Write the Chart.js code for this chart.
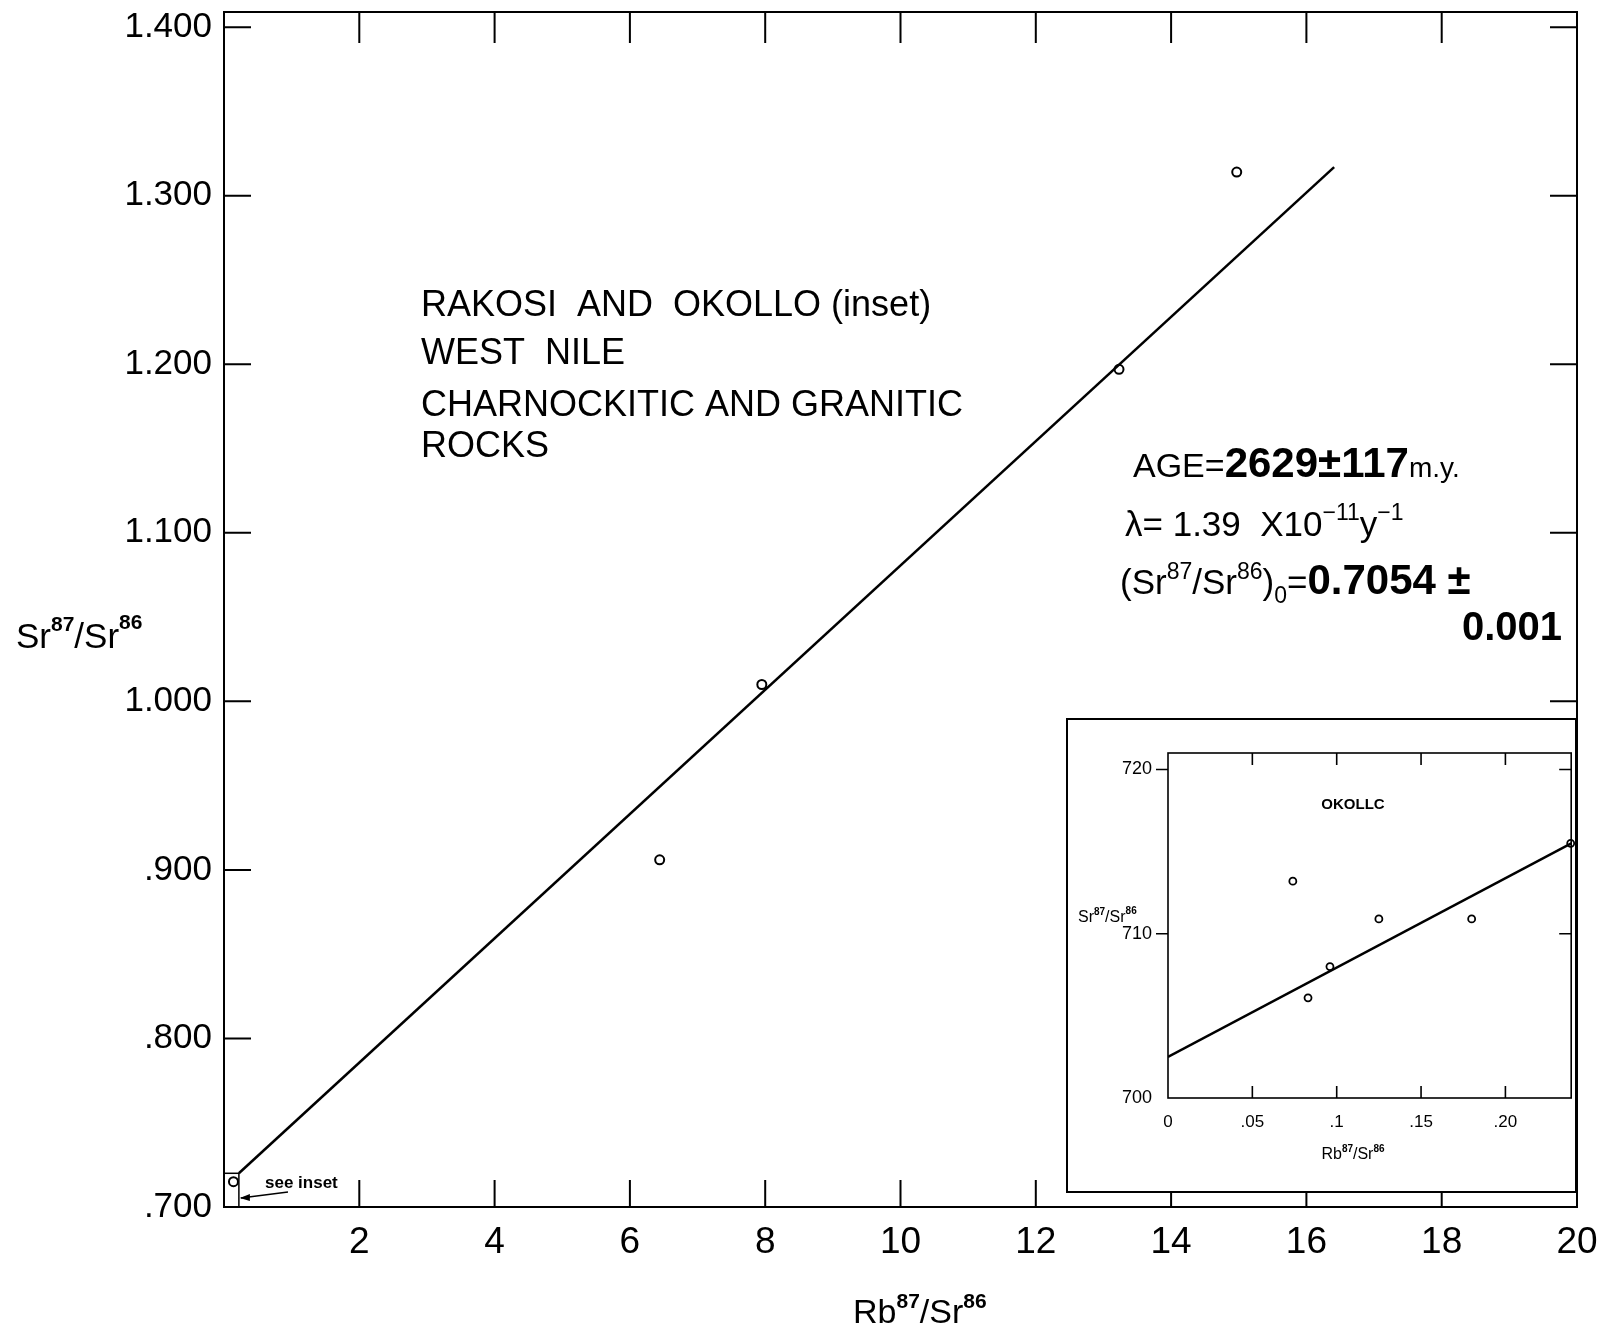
<!DOCTYPE html>
<html>
<head>
<meta charset="utf-8">
<script src="https://cdn.jsdelivr.net/npm/chart.js@4.4.1/dist/chart.umd.min.js"></script>
<style>
  html, body { margin: 0; padding: 0; background: #fff; }
  #wrap { position: relative; width: 1611px; height: 1329px; }
  #main { position: absolute; left: 0; top: 0; }
  #inset { position: absolute; left: 1066px; top: 718px; }
</style>
</head>
<body>
<div id="wrap">
  <canvas id="main" width="1611" height="1329"></canvas>
  <canvas id="inset" width="511" height="475"></canvas>
</div>
<script>
// main diagram (Rakosi)
const mainX = [0.14, 6.44, 7.95, 13.23, 14.97];
const mainY = [0.715, 0.906, 1.010, 1.197, 1.314];
const fitX = [0.22, 16.41];
const fitY = [0.720, 1.317];
const yTickValues = [0.7, 0.8, 0.9, 1.0, 1.1, 1.2, 1.3, 1.4];
const yTickLabels = ['.700', '.800', '.900', '1.000', '1.100', '1.200', '1.300', '1.400'];
const xTickValues = [2, 4, 6, 8, 10, 12, 14, 16, 18, 20];
const xTickLabels = ['2', '4', '6', '8', '10', '12', '14', '16', '18', '20'];
// the small "see inset" box near the origin
const boxX = [0, 0.22];
const boxY = [0.700, 0.720];

// inset (Okollo)
const insetX = [0.074, 0.083, 0.096, 0.125, 0.180, 0.2387];
const insetY = [713.2, 706.1, 708.0, 710.9, 710.9, 715.5];
const insetFitX = [0, 0.239];
const insetFitY = [702.5, 715.5];
const insetXTicks = [0, 0.05, 0.10, 0.15, 0.20];
const insetXLabels = ['0', '.05', '.1', '.15', '.20'];
const insetYTicks = [700, 710, 720];
const insetYLabels = ['700', '710', '720'];

const FONT = '"Liberation Sans", Arial, sans-serif';

// texte avec exposants / indices
function drawRich(ctx, x, y, parts, align) {
  let w = 0;
  parts.forEach(p => { ctx.font = p.f; w += ctx.measureText(p.t).width; });
  let cx = x;
  if (align === 'center') cx = x - w / 2;
  if (align === 'right') cx = x - w;
  ctx.textAlign = 'left';
  ctx.textBaseline = 'alphabetic';
  parts.forEach(p => {
    ctx.font = p.f;
    ctx.fillText(p.t, cx, y + (p.dy || 0));
    cx += ctx.measureText(p.t).width;
  });
}

function toPoints(xs, ys) {
  return xs.map((v, i) => ({ x: v, y: ys[i] }));
}

// cadre + graduations vers l'intérieur
const frameMain = {
  id: 'frameMain',
  afterDraw(chart) {
    const ctx = chart.ctx;
    const a = chart.chartArea;
    const xs = chart.scales.x, ys = chart.scales.y;
    const L = 27;
    ctx.save();
    ctx.strokeStyle = '#000';
    ctx.lineWidth = 2;
    ctx.strokeRect(a.left, a.top, a.right - a.left, a.bottom - a.top);
    ctx.beginPath();
    xTickValues.forEach(v => {
      if (v >= 20) return;
      const px = xs.getPixelForValue(v);
      ctx.moveTo(px, a.bottom); ctx.lineTo(px, a.bottom - L);
      ctx.moveTo(px, a.top); ctx.lineTo(px, a.top + L + 4);
    });
    yTickValues.forEach(v => {
      if (v <= 0.7) return;
      const py = ys.getPixelForValue(v);
      ctx.moveTo(a.left, py); ctx.lineTo(a.left + L, py);
      ctx.moveTo(a.right, py); ctx.lineTo(a.right - L, py);
    });
    ctx.stroke();

    // see inset box and arrow
    const bx0 = xs.getPixelForValue(boxX[0]), bx1 = xs.getPixelForValue(boxX[1]);
    const by0 = ys.getPixelForValue(boxY[0]), by1 = ys.getPixelForValue(boxY[1]);
    ctx.lineWidth = 1.5;
    ctx.strokeRect(bx0, by1, bx1 - bx0, by0 - by1);
    ctx.beginPath();
    ctx.moveTo(288, 1192); ctx.lineTo(bx1 + 2, 1198);
    ctx.stroke();
    ctx.beginPath();
    ctx.moveTo(bx1 + 1, 1198); ctx.lineTo(bx1 + 11, 1194); ctx.lineTo(bx1 + 11, 1201);
    ctx.closePath(); ctx.fill();

    ctx.fillStyle = '#000';
    drawRich(ctx, 265, 1188, [{ t: 'see inset', f: '600 17px ' + FONT }]);

    // titre
    ctx.font = '36px ' + FONT;
    ctx.textAlign = 'left';
    ctx.fillText('RAKOSI  AND  OKOLLO (inset)', 421, 316);
    ctx.fillText('WEST  NILE', 421, 364);
    ctx.fillText('CHARNOCKITIC AND GRANITIC', 421, 416);
    ctx.fillText('ROCKS', 421, 457);

    // age
    drawRich(ctx, 1133, 477, [
      { t: 'AGE=', f: '34px ' + FONT },
      { t: '2629±117', f: 'bold 42px ' + FONT },
      { t: 'm.y.', f: '28px ' + FONT }
    ]);
    drawRich(ctx, 1125, 536, [
      { t: 'λ= 1.39  X10', f: '35px ' + FONT },
      { t: '−11', f: '23px ' + FONT, dy: -16 },
      { t: 'y', f: '35px ' + FONT },
      { t: '−1', f: '23px ' + FONT, dy: -16 }
    ]);
    drawRich(ctx, 1120, 594, [
      { t: '(Sr', f: '35px ' + FONT },
      { t: '87', f: '23px ' + FONT, dy: -15 },
      { t: '/Sr', f: '35px ' + FONT },
      { t: '86', f: '23px ' + FONT, dy: -15 },
      { t: ')', f: '35px ' + FONT },
      { t: '0', f: '23px ' + FONT, dy: 9 },
      { t: '=', f: '35px ' + FONT },
      { t: '0.7054 ±', f: 'bold 42px ' + FONT }
    ]);
    drawRich(ctx, 1562, 640, [{ t: '0.001', f: 'bold 40px ' + FONT }], 'right');

    // titres des axes
    drawRich(ctx, 16, 648, [
      { t: 'Sr', f: '35px ' + FONT },
      { t: '87', f: 'bold 21px ' + FONT, dy: -17 },
      { t: '/Sr', f: '35px ' + FONT },
      { t: '86', f: 'bold 21px ' + FONT, dy: -19 }
    ]);
    drawRich(ctx, 853, 1323, [
      { t: 'Rb', f: '34px ' + FONT },
      { t: '87', f: 'bold 21px ' + FONT, dy: -15 },
      { t: '/Sr', f: '34px ' + FONT },
      { t: '86', f: 'bold 21px ' + FONT, dy: -15 }
    ]);
    ctx.restore();
  }
};

const mainChart = new Chart(document.getElementById('main'), {
  type: 'scatter',
  data: {
    datasets: [
      {
        label: 'isochron',
        data: toPoints(fitX, fitY),
        showLine: true,
        borderColor: '#000',
        borderWidth: 2.5,
        pointRadius: 0
      },
      {
        label: 'samples',
        data: toPoints(mainX, mainY),
        pointStyle: 'circle',
        pointRadius: 4.5,
        borderWidth: 2,
        borderColor: '#000',
        backgroundColor: '#fff'
      }
    ]
  },
  options: {
    responsive: false,
    animation: false,
    events: [],
    layout: { padding: { left: 0, top: 12, right: 34, bottom: 0 } },
    plugins: { legend: { display: false }, tooltip: { enabled: false } },
    scales: {
      x: {
        type: 'linear', min: 0, max: 20,
        grid: { display: false }, border: { display: false },
        afterBuildTicks: s => { s.ticks = xTickValues.map(v => ({ value: v })); },
        afterFit: s => { s.height = 122; s.paddingLeft = 0; s.paddingRight = 0; },
        ticks: {
          padding: 6, color: '#000', maxRotation: 0, autoSkip: false,
          font: { family: FONT, size: 37 },
          callback: v => xTickLabels[xTickValues.indexOf(v)]
        }
      },
      y: {
        type: 'linear', min: 0.7, max: 1.409,
        grid: { display: false }, border: { display: false },
        afterBuildTicks: s => { s.ticks = yTickValues.map(v => ({ value: v })); },
        afterFit: s => { s.width = 224; s.paddingTop = 0; s.paddingBottom = 0; },
        ticks: {
          padding: 4, color: '#000', autoSkip: false,
          font: { family: FONT, size: 35 },
          callback: v => yTickLabels[yTickValues.findIndex(t => Math.abs(t - v) < 1e-6)]
        }
      }
    }
  },
  plugins: [frameMain]
});

// encadré
const frameInset = {
  id: 'frameInset',
  beforeDraw(chart) {
    const ctx = chart.ctx;
    ctx.save();
    ctx.fillStyle = '#fff';
    ctx.fillRect(0, 0, chart.width, chart.height);
    ctx.restore();
  },
  afterDraw(chart) {
    const ctx = chart.ctx;
    const a = chart.chartArea;
    const xs = chart.scales.x, ys = chart.scales.y;
    ctx.save();
    ctx.strokeStyle = '#000';
    ctx.fillStyle = '#000';
    ctx.lineWidth = 2;
    ctx.strokeRect(1, 1, chart.width - 2, chart.height - 2);
    ctx.lineWidth = 1.6;
    ctx.strokeRect(a.left, a.top, a.right - a.left, a.bottom - a.top);
    ctx.beginPath();
    insetXTicks.forEach(v => {
      if (v === 0) return;
      const px = xs.getPixelForValue(v);
      ctx.moveTo(px, a.bottom); ctx.lineTo(px, a.bottom - 12);
      ctx.moveTo(px, a.top); ctx.lineTo(px, a.top + 12);
    });
    insetYTicks.forEach(v => {
      if (v === 700) return;
      const py = ys.getPixelForValue(v);
      ctx.moveTo(a.left, py); ctx.lineTo(a.left - 12, py);
      ctx.moveTo(a.right, py); ctx.lineTo(a.right - 12, py);
    });
    ctx.stroke();

    drawRich(ctx, 287, 91, [{ t: 'OKOLLC', f: 'bold 15px ' + FONT }], 'center');
    drawRich(ctx, 12, 204, [
      { t: 'Sr', f: '16px ' + FONT },
      { t: '87', f: 'bold 10px ' + FONT, dy: -7 },
      { t: '/Sr', f: '16px ' + FONT },
      { t: '86', f: 'bold 10px ' + FONT, dy: -8 }
    ]);
    drawRich(ctx, 287, 441, [
      { t: 'Rb', f: '16px ' + FONT },
      { t: '87', f: 'bold 10px ' + FONT, dy: -7 },
      { t: '/Sr', f: '16px ' + FONT },
      { t: '86', f: 'bold 10px ' + FONT, dy: -7 }
    ], 'center');
    ctx.restore();
  }
};

const insetChart = new Chart(document.getElementById('inset'), {
  type: 'scatter',
  data: {
    datasets: [
      {
        label: 'isochron',
        data: toPoints(insetFitX, insetFitY),
        showLine: true,
        borderColor: '#000',
        borderWidth: 2.4,
        pointRadius: 0
      },
      {
        label: 'Okollo',
        data: toPoints(insetX, insetY),
        pointStyle: 'circle',
        pointRadius: 3.5,
        borderWidth: 1.8,
        borderColor: '#000',
        backgroundColor: '#fff',
        clip: false
      }
    ]
  },
  options: {
    responsive: false,
    animation: false,
    events: [],
    layout: { padding: { left: 0, top: 35, right: 4, bottom: 0 } },
    plugins: { legend: { display: false }, tooltip: { enabled: false } },
    scales: {
      x: {
        type: 'linear', min: 0, max: 0.239,
        grid: { display: false }, border: { display: false },
        afterBuildTicks: s => { s.ticks = insetXTicks.map(v => ({ value: v })); },
        afterFit: s => { s.height = 95; s.paddingLeft = 0; s.paddingRight = 0; },
        ticks: {
          padding: 6, color: '#000', maxRotation: 0, autoSkip: false,
          font: { family: FONT, size: 17 },
          callback: v => insetXLabels[insetXTicks.findIndex(t => Math.abs(t - v) < 1e-9)]
        }
      },
      y: {
        type: 'linear', min: 700, max: 721,
        grid: { display: false }, border: { display: false },
        afterBuildTicks: s => { s.ticks = insetYTicks.map(v => ({ value: v })); },
        afterFit: s => { s.width = 102; s.paddingTop = 0; s.paddingBottom = 0; },
        ticks: {
          padding: 8, color: '#000', autoSkip: false,
          font: { family: FONT, size: 18 },
          callback: v => insetYLabels[insetYTicks.indexOf(v)]
        }
      }
    }
  },
  plugins: [frameInset]
});
</script>
</body>
</html>
